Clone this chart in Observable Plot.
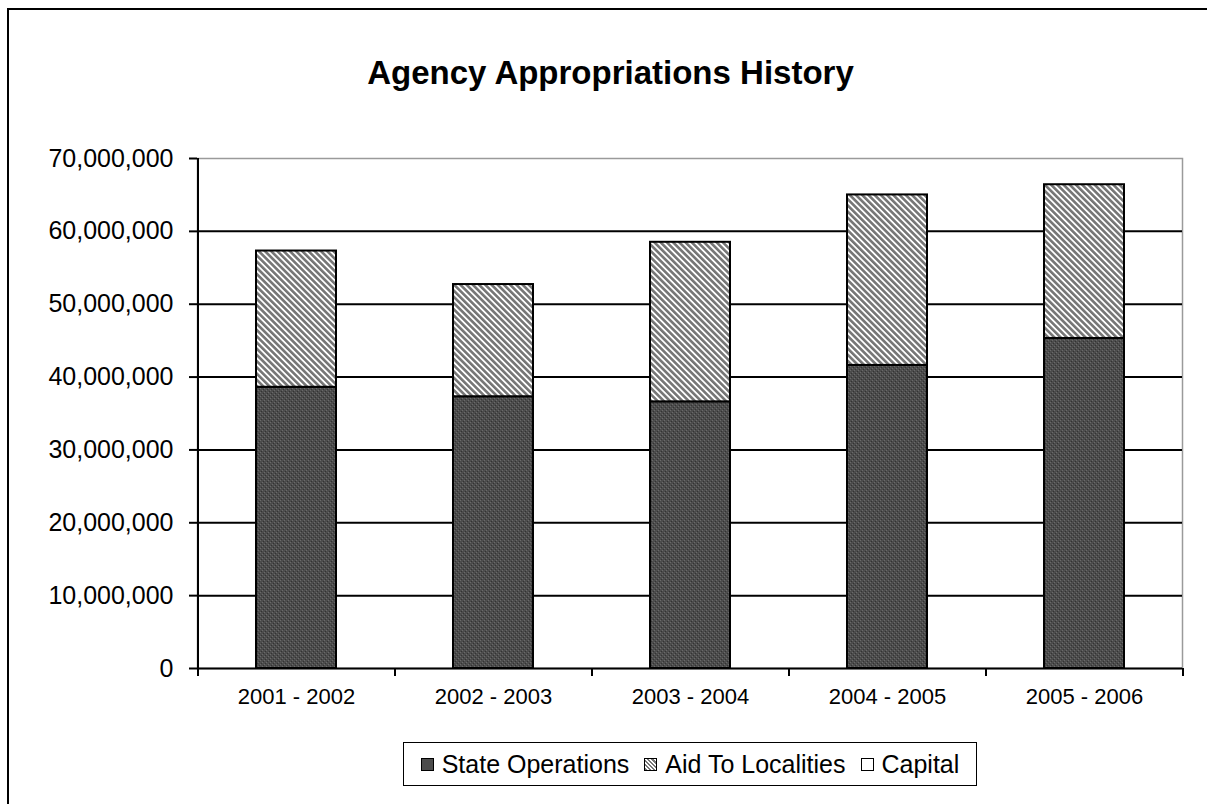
<!DOCTYPE html>
<html>
<head>
<meta charset="utf-8">
<script src="https://cdn.jsdelivr.net/npm/d3@7"></script>
<script src="https://cdn.jsdelivr.net/npm/@observablehq/plot@0.6"></script>
<style>
  html, body { margin: 0; padding: 0; background: #fff; overflow: hidden; }
  body { width: 1207px; height: 804px; position: relative; font-family: "Liberation Sans", Arial, sans-serif; }
  #frame { position: absolute; left: 7px; top: 8px; width: 1230px; height: 830px; border: 2px solid #000; box-sizing: border-box; }
  #title { position: absolute; left: 0; width: 1221px; top: 53px; text-align: center; font-weight: bold; font-size: 33px; color: #000; line-height: 40px; }
  #chart { position: absolute; left: 0; top: 100px; }
  #legend { position: absolute; left: 403px; top: 742px; width: 574px; height: 44px; border: 1.5px solid #000; box-sizing: border-box;
            display: flex; align-items: center; justify-content: center; gap: 15px; font-size: 25px; color: #000; }
  #legend .item { display: flex; align-items: center; gap: 8px; }
  #legend .sw { width: 11px; height: 11px; border: 1px solid #000; }
</style>
</head>
<body>
<div id="frame"></div>
<div id="title">Agency Appropriations History</div>
<div id="chart"></div>
<div id="legend"></div>
<script>
// ---- data ----
const categories = ["2001 - 2002", "2002 - 2003", "2003 - 2004", "2004 - 2005", "2005 - 2006"];
const seriesNames = ["State Operations", "Aid To Localities", "Capital"];
const stateOperations = [38600000, 37300000, 36600000, 41600000, 45300000];
const aidToLocalities = [18700000, 15400000, 21900000, 23400000, 21100000];
const capital = [0, 0, 0, 0, 0];
const yTicks = [0, 10000000, 20000000, 30000000, 40000000, 50000000, 60000000, 70000000];

const seriesValues = [stateOperations, aidToLocalities, capital];
const rows = categories.flatMap((c, i) =>
  seriesNames.map((s, k) => ({category: c, series: s, value: seriesValues[k][i]}))
).filter(d => d.value > 0);

const fills = ["url(#stateFill)", "url(#aidFill)", "#ffffff"];

const W = 1207, mL = 197, mR = 25;
const step = (W - mL - mR) / categories.length;
const fmt = d3.format(",");

const plot = Plot.plot({
  width: W,
  height: 618,
  marginLeft: mL,
  marginRight: mR,
  marginTop: 58,
  marginBottom: 50,
  style: {fontFamily: "'Liberation Sans', Arial, sans-serif", background: "transparent", overflow: "visible"},
  x: {domain: categories, paddingInner: 0.594, paddingOuter: 0.297, align: 0.5, label: null},
  y: {domain: [0, 70000000], label: null},
  color: {domain: seriesNames, range: fills},
  marks: [
    Plot.frame({stroke: "#9a9a9a", strokeWidth: 1.5}),
    Plot.ruleY(yTicks.filter(v => v > 0 && v < 70000000), {stroke: "#000", strokeWidth: 2}),
    Plot.barY(rows, {x: "category", y: "value", fill: "series", stroke: "#000", strokeWidth: 2}),
    Plot.ruleY([0], {stroke: "#000", strokeWidth: 2}),
    Plot.ruleX([0], {x: () => categories[0], dx: -step / 2, stroke: "#000", strokeWidth: 2}),
    // y axis ticks + labels
    Plot.axisY({ticks: yTicks, tickSize: 8, tickPadding: 16, tickFormat: fmt, fontSize: 25, strokeWidth: 2, stroke: "#000", fill: "#000", label: null}),
    // x axis boundary ticks
    Plot.axisX({tickSize: 8, dx: -step / 2, tickFormat: () => "", strokeWidth: 2, stroke: "#000", label: null}),
    Plot.axisX([categories[categories.length - 1]], {tickSize: 8, dx: step / 2, tickFormat: () => "", strokeWidth: 2, stroke: "#000", label: null}),
    // x labels
    Plot.axisX({tickSize: 0, tickPadding: 20, fontSize: 22, fill: "#000", label: null})
  ]
});

plot.insertAdjacentHTML("afterbegin", `
<defs>
  <pattern id="stateFill" width="4" height="4" patternUnits="userSpaceOnUse">
    <rect width="4" height="4" fill="#4c4c4c"/>
    <rect x="0" y="0" width="1" height="1" fill="#6a6a6a"/>
    <rect x="2" y="2" width="1" height="1" fill="#6a6a6a"/>
    <rect x="1" y="3" width="1" height="1" fill="#333"/>
    <rect x="3" y="1" width="1" height="1" fill="#333"/>
  </pattern>
  <pattern id="aidFill" width="4.4" height="8" patternUnits="userSpaceOnUse" patternTransform="rotate(-45)">
    <rect width="4.4" height="8" fill="#ffffff"/>
    <rect x="0" y="0" width="2.6" height="8" fill="#767676"/>
  </pattern>
</defs>`);

document.getElementById("chart").appendChild(plot);

// legend
const legend = document.getElementById("legend");
seriesNames.forEach((s, k) => {
  const item = document.createElement("div");
  item.className = "item";
  const sw = document.createElement("div");
  sw.className = "sw";
  sw.style.background = k === 0 ? "#4c4c4c" : k === 1 ? "repeating-linear-gradient(45deg, #767676 0 1.5px, #ffffff 1.5px 3px)" : "#ffffff";
  const t = document.createElement("span");
  t.textContent = s;
  item.appendChild(sw);
  item.appendChild(t);
  legend.appendChild(item);
});
</script>
</body>
</html>
